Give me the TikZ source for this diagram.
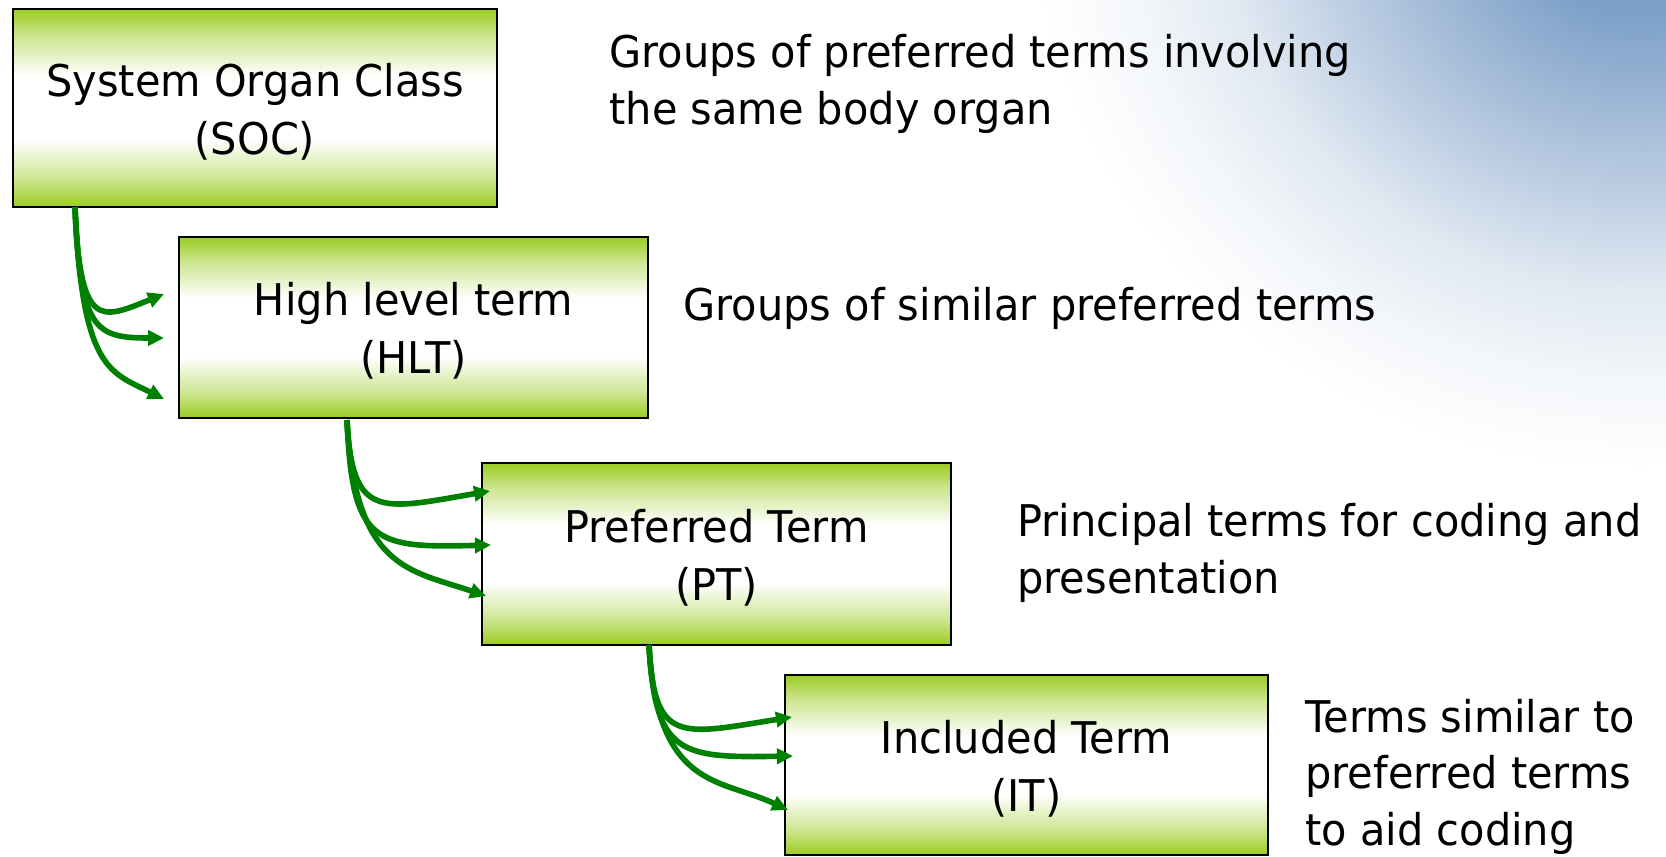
\documentclass[tikz,border=0pt]{standalone}
\usepackage{fontspec}
\setmainfont{DejaVu Sans}[FakeStretch=0.95]
\usetikzlibrary{arrows.meta}
\definecolor{bxg}{RGB}{155,204,34}
\definecolor{argreen}{RGB}{0,128,0}
\definecolor{bgA}{RGB}{115,152,196}
\definecolor{bgB}{RGB}{125,160,200}
\definecolor{bgC}{RGB}{182,201,224}
\definecolor{bgD}{RGB}{224,232,241}
\definecolor{bgE}{RGB}{243,246,250}
\pgfdeclareverticalshading{boxshade}{100bp}{color(0bp)=(bxg); color(25bp)=(bxg); color(32bp)=(bxg!50!white); color(42bp)=(white); color(58bp)=(white); color(68bp)=(bxg!50!white); color(75bp)=(bxg); color(100bp)=(bxg)}
\pgfdeclareradialshading{bgblob}{\pgfpoint{0bp}{0bp}}{color(0bp)=(bgA); color(5bp)=(bgB); color(12bp)=(bgC); color(17bp)=(bgD); color(21bp)=(bgE); color(25bp)=(white); color(50bp)=(white)}
\newcommand{\toppad}{\rule{0pt}{20pt}}
\tikzset{
  termbox/.style={draw=black, line width=1pt, shading=boxshade, align=center, inner sep=0pt,
    font=\fontsize{21.85pt}{29pt}\selectfont},
  desc/.style={anchor=base west, align=left, inner sep=0pt,
    font=\fontsize{21.85pt}{28.2pt}\selectfont},
  link/.style={draw=argreen, line width=2.8pt, -{Triangle[length=8pt,width=7.5pt]}}
}
\begin{document}
\begin{tikzpicture}[x=0.5pt,y=-0.5pt]
\useasboundingbox (0,0) rectangle (1666,857);
\fill[white] (0,0) rectangle (1666,857);
\begin{scope}
  \clip (0,0) rectangle (1666,857);
  \shade[shading=bgblob] (1640,-100) ellipse (305pt and 285pt);
\end{scope}

\node[termbox, minimum width=242pt, minimum height=99pt] (soc) at (255,108) {\toppad System Organ Class\\(SOC)};
\node[termbox, minimum width=234.5pt, minimum height=90.5pt] (hlt) at (413.5,327.5) {\toppad High level term\\(HLT)};
\node[termbox, minimum width=234.5pt, minimum height=91pt] (pt) at (716.5,554) {\toppad Preferred Term\\(PT)};
\node[termbox, minimum width=241.5pt, minimum height=90pt] (it) at (1026.5,765) {\toppad Included Term\\(IT)};

% anchor = baseline of the last line
\node[desc] (d1) at (609,124) {Groups of preferred terms involving\\the same body organ};
\node[desc] (d2) at (683,320) {Groups of similar preferred terms};
\node[desc] (d3) at (1017,593) {Principal terms for coding and\\presentation};
\node[desc] (d4) at (1305,845) {Terms similar to\\preferred terms\\to aid coding};

% group 1
\coordinate (s1) at (75,207);
\coordinate (t11) at (164,294);
\coordinate (t12) at (164,338);
\coordinate (t13) at (164,399);
\draw[link] (s1) .. controls (80,330) and (100,320) .. (t11);
\draw[link] (s1) .. controls (80,330) and (95,338) .. (t12);
\draw[link] (s1) .. controls (82,370) and (110,372) .. (t13);
% group 2
\coordinate (s2) at (347,420);
\coordinate (t21) at (490,491);
\coordinate (t22) at (491,545);
\coordinate (t23) at (486,596);
\draw[link] (s2) .. controls (352,520) and (380,510) .. (t21);
\draw[link] (s2) .. controls (352,545) and (375,548) .. (t22);
\draw[link] (s2) .. controls (355,570) and (410,570) .. (t23);
% group 3
\coordinate (s3) at (649,645);
\coordinate (t31) at (792,717);
\coordinate (t32) at (793,756);
\coordinate (t33) at (788,810);
\draw[link] (s3) .. controls (654,745) and (680,735) .. (t31);
\draw[link] (s3) .. controls (655,755) and (680,758) .. (t32);
\draw[link] (s3) .. controls (657,790) and (720,778) .. (t33);
\end{tikzpicture}
\end{document}
